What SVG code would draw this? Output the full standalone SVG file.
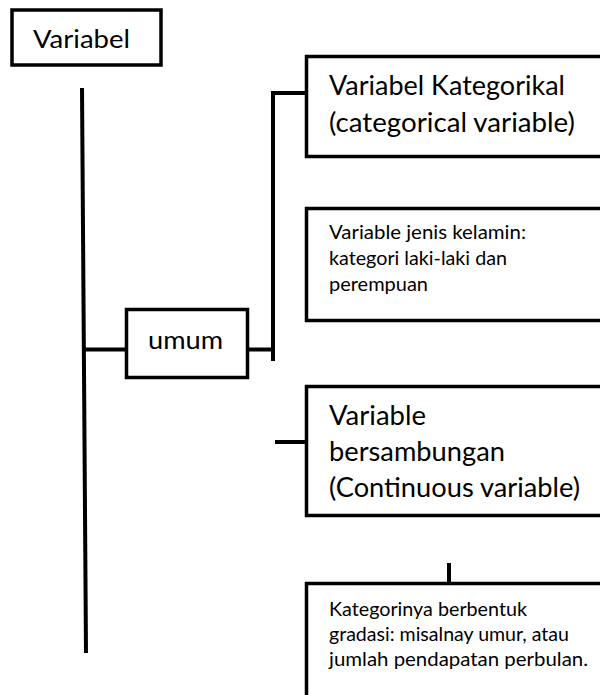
<svg xmlns="http://www.w3.org/2000/svg" width="600" height="695" viewBox="0 0 600 695">
  <style>
    .box { fill: #ffffff; stroke: #000000; stroke-width: 3.5; }
    .wire { stroke: #000000; stroke-width: 4; fill: none; stroke-linecap: butt; }
    .t { font-family: "Lato", "Open Sans", "Liberation Sans", sans-serif; fill: #000000; }
    .big { font-size: 27px; }
    .small { font-size: 19px; }
  </style>
  <rect width="600" height="695" fill="#ffffff"/>

  <!-- connectors -->
  <g id="connectors">
    <line class="wire" x1="82" y1="88" x2="86" y2="653"/>
    <line class="wire" x1="84" y1="349.5" x2="125" y2="349.5"/>
    <line class="wire" x1="249" y1="349.5" x2="275" y2="349.5"/>
    <polyline class="wire" points="305,93 273,93 273,361"/>
    <line class="wire" x1="275" y1="442" x2="306" y2="442"/>
    <line class="wire" x1="449" y1="563" x2="449" y2="582"/>
  </g>

  <g id="node-variabel">
    <rect class="box" x="12" y="10" width="149" height="55" stroke-width="4"/>
    <text class="t" x="33" y="48" font-size="25" textLength="97" lengthAdjust="spacingAndGlyphs">Variabel</text>
  </g>

  <g id="node-umum">
    <rect class="box" x="126.5" y="309.5" width="121" height="68"/>
    <text class="t" x="148" y="349" font-size="25" textLength="75" lengthAdjust="spacingAndGlyphs">umum</text>
  </g>

  <g id="node-kategorikal">
    <rect class="box" x="306.5" y="56.5" width="320" height="100"/>
    <text class="t big" x="329" y="95" textLength="236" lengthAdjust="spacingAndGlyphs">Variabel Kategorikal</text>
    <text class="t big" x="329" y="132" textLength="246" lengthAdjust="spacingAndGlyphs">(categorical variable)</text>
  </g>

  <g id="node-kategorikal-contoh">
    <rect class="box" x="306.5" y="208.5" width="320" height="112"/>
    <text class="t small" x="329" y="239" textLength="197" lengthAdjust="spacingAndGlyphs">Variable jenis kelamin:</text>
    <text class="t small" x="329" y="265" textLength="178" lengthAdjust="spacingAndGlyphs">kategori laki-laki dan</text>
    <text class="t small" x="329" y="290.5" textLength="99" lengthAdjust="spacingAndGlyphs">perempuan</text>
  </g>

  <g id="node-bersambungan">
    <rect class="box" x="306.5" y="386.5" width="320" height="129"/>
    <text class="t big" x="329" y="425" textLength="97" lengthAdjust="spacingAndGlyphs">Variable</text>
    <text class="t big" x="329" y="461" textLength="176" lengthAdjust="spacingAndGlyphs">bersambungan</text>
    <text class="t big" x="329" y="497" textLength="251" lengthAdjust="spacingAndGlyphs">(Continuous variable)</text>
  </g>

  <g id="node-bersambungan-contoh">
    <rect class="box" x="306.5" y="583.5" width="320" height="140"/>
    <text class="t small" x="329" y="616" textLength="198" lengthAdjust="spacingAndGlyphs">Kategorinya berbentuk</text>
    <text class="t small" x="329" y="641" textLength="240" lengthAdjust="spacingAndGlyphs">gradasi: misalnay umur, atau</text>
    <text class="t small" x="329" y="666" textLength="259" lengthAdjust="spacingAndGlyphs">jumlah pendapatan perbulan.</text>
  </g>
</svg>
